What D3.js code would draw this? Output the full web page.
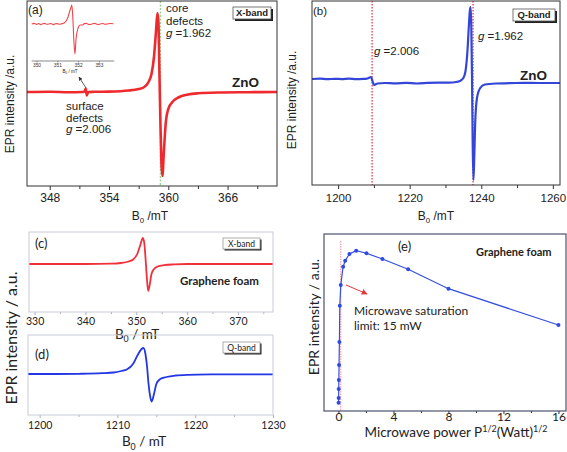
<!DOCTYPE html>
<html><head><meta charset="utf-8">
<script src="https://cdnjs.cloudflare.com/ajax/libs/d3/7.8.5/d3.min.js"></script>
<style>body{margin:0;background:#fff}svg{display:block}</style>
</head><body>
<svg id="chart" width="567" height="452"></svg>
<script>
// ---------- data ----------
// (a) ZnO X-band
const aField  = [345.7,348,350,351.2,351.5,351.65,351.75,351.9,352.5,354,356,357,357.5,358.0,358.3,358.55,358.75,358.9,359.0,359.1,359.2,359.3,359.4,359.55,359.75,360.0,360.5,361,362,363,365,368,371];
const aSignal = [0,0.3,-0.2,0,0.2,3.5,-3.5,0,0.2,0.4,1.5,3,4.5,10,18,35,60,79,70,20,-30,-70,-84,-60,-30,-17,-9,-5.5,-2.5,-1.3,-0.5,-0.2,0];
// (a) inset
const insetField  = [349.77,349.9,350.0,350.1,350.2,350.3,350.4,350.5,350.6,350.7,350.8,350.9,351.0,351.1,351.2,351.35,351.5,351.6,351.65,351.7,351.75,351.8,351.85,351.9,352.0,352.1,352.2,352.3,352.4,352.5,352.6,352.7,352.8,352.9,353.0,353.1,353.2,353.3,353.4,353.55,353.7];
const insetSignal = [0,0.6,-0.4,0.5,-0.6,0.3,0.6,-0.3,0,0.5,-0.8,0.2,0.4,-0.3,0.2,1.2,6,13,16,19,5,-18,-30,-15,-4,-1,-1,0.4,0.6,-0.4,-0.5,0.3,0.6,-0.2,-0.5,0.3,0.5,-0.3,0,0.5,0.2];
const insetTicks = [350,351,352,353];
// (b) ZnO Q-band
const bField  = [1192.7,1195,1197,1199,1201,1203,1205,1207,1208,1208.8,1209.2,1209.6,1210.0,1210.4,1211,1213,1216,1219,1222,1225,1228,1231,1233,1234,1235,1235.6,1236.1,1236.5,1236.8,1237.0,1237.2,1237.4,1237.6,1237.8,1238.0,1238.3,1238.8,1239.7,1241,1244,1248,1252,1256,1262];
const bSignal = [4,4.3,3.8,4.2,3.9,4.3,3.8,4.1,4.4,5.5,6,2,-2,-1.5,-0.5,0,-0.4,0.2,-0.5,0.1,0.4,0.3,1,2,5,12,30,55,72,76,60,10,-60,-97,-80,-40,-15,-5,-1.5,-0.5,-0.2,0.2,0,0];
const bMarks  = [1209.5, 1237.7];
// (c) graphene foam X-band
const cField  = [328.9,335,340,345,347,348.5,349.4,350.2,350.8,351.3,351.6,351.9,352.1,352.35,352.6,353.0,353.5,354.2,355.5,357.5,360,365,370,376.9];
const cSignal = [0,0,0,0.3,1,2.5,4.5,10,19,26,20,0,-15,-27,-22,-10,-5,-2.5,-1.2,-0.4,0,0,0,0];
// (d) graphene foam Q-band
const dField  = [1198.5,1202,1205,1208,1209.5,1210.5,1211.2,1212.0,1212.6,1213.1,1213.35,1213.6,1213.8,1214.0,1214.2,1214.4,1214.7,1215.0,1215.5,1216.3,1217.5,1219,1222,1226,1230];
const dSignal = [0,0,0.2,0.8,1.5,3,4.5,10,19,25,26,20,8,-10,-22,-27.5,-20,-10,-5,-3,-1.5,-0.8,-0.4,-0.3,-0.3];
// (e) microwave power saturation
const ePower     = [0.01,0.015,0.02,0.03,0.045,0.07,0.1,0.17,0.34,0.49,0.8,1.29,2.04,3.2,5.07,8.0,16.0];
const eIntensity = [4.7,7.3,12.4,17.5,26,39,59.5,71.2,81.5,84.9,88.7,90.6,89.1,85.9,80.1,69.1,48.6];
const eSatLimit  = 0.17;
// tick values
const aTicks = [348,354,360,366], aMinor = [351,357,363,369];
const bTicks = [1200,1220,1240,1260], bMinor = [1210,1230,1250];
const cTicks = [330,340,350,360,370], cMinor = [335,345,355,365,375];
const dTicks = [1200,1210,1220,1230], dMinor = [1205,1215,1225];
const eTicks = [0,4,8,12,16], eMinor = [2,6,10,14];

// ---------- drawing ----------
const svg = d3.select('#chart');
const ARIAL = "'Liberation Sans', Arial, sans-serif";
const CAL = "Lato, 'Open Sans', sans-serif";
const defs = svg.append('defs');
defs.append('marker').attr('id','arrRed').attr('viewBox','0 0 10 10').attr('refX',9).attr('refY',5)
  .attr('markerWidth',6).attr('markerHeight',6).attr('orient','auto')
  .append('path').attr('d','M0,0L10,5L0,10z').attr('fill','#e8343c');
defs.append('marker').attr('id','arrGray').attr('viewBox','0 0 10 10').attr('refX',9).attr('refY',5)
  .attr('markerWidth',5).attr('markerHeight',5).attr('orient','auto')
  .append('path').attr('d','M0,0L10,5L0,10z').attr('fill','#333');

let clipN = 0;
function panel(o){
  const x = d3.scaleLinear().domain(o.xd).range([o.x0,o.x1]);
  const y = d3.scaleLinear().domain(o.yd).range([o.y1,o.y0]);
  const id = 'clip'+(clipN++);
  defs.append('clipPath').attr('id',id).append('rect')
    .attr('x',o.x0).attr('y',o.y0).attr('width',o.x1-o.x0).attr('height',o.y1-o.y0);
  const g = svg.append('g');
  const plot = g.append('g').attr('clip-path',`url(#${id})`);
  g.append('g').attr('transform',`translate(0,${o.y1})`)
    .call(d3.axisBottom(x).tickValues(o.minor).tickSize(o.minorSize||2).tickFormat(''))
    .call(s=>{s.select('.domain').remove(); s.selectAll('line').attr('stroke',o.tickColor);});
  const ax = g.append('g').attr('transform',`translate(0,${o.y1})`)
    .call(d3.axisBottom(x).tickValues(o.ticks).tickSize(o.majorSize||4).tickFormat(d3.format('d')));
  ax.select('.domain').remove();
  ax.selectAll('line').attr('stroke',o.tickColor);
  ax.selectAll('text').attr('y',o.labelBase-o.y1).attr('dy',null)
    .attr('font-family',o.font).attr('font-size',o.fs).attr('fill','#222');
  g.append('rect').attr('x',o.x0).attr('y',o.y0).attr('width',o.x1-o.x0).attr('height',o.y1-o.y0)
    .attr('fill','none').attr('stroke',o.boxColor).attr('stroke-width',o.boxW||1);
  return {x,y,plot,g};
}
function trace(p, xs, ys, color, w){
  const pts = xs.map((v,i)=>[v,ys[i]]);
  p.plot.append('path').datum(pts).attr('fill','none').attr('stroke',color).attr('stroke-width',w)
    .attr('stroke-linejoin','round')
    .attr('d', d3.line().x(d=>p.x(d[0])).y(d=>p.y(d[1])).curve(d3.curveMonotoneX));
}
function txt(x,y,s,o={}){
  return svg.append('text').attr('x',x).attr('y',y).text(s)
    .attr('font-family',o.font||ARIAL).attr('font-size',o.fs||12)
    .attr('font-weight',o.bold?'bold':'normal').attr('fill',o.fill||'#222')
    .attr('text-anchor',o.anchor||'start');
}
function bLabel(cx,base,sep,o){
  const t = svg.append('text').attr('x',cx).attr('y',base).attr('text-anchor','middle')
    .attr('font-family',o.font).attr('font-size',o.fs).attr('fill','#222');
  t.append('tspan').text('B');
  t.append('tspan').text('0').attr('font-size',o.fs*0.65).attr('dy',o.fs*0.28);
  t.append('tspan').text(sep+'mT').attr('dy',-o.fs*0.28);
}
function yLabel(cx,cy,s,o){
  svg.append('text').attr('transform',`translate(${cx},${cy}) rotate(-90)`).attr('text-anchor','middle')
    .attr('font-family',o.font).attr('font-size',o.fs).attr('fill','#222').text(s);
}
function bandBox(x,y,w,h,s,o){
  svg.append('rect').attr('x',x+o.sh).attr('y',y+o.sh).attr('width',w).attr('height',h).attr('fill','#222');
  svg.append('rect').attr('x',x).attr('y',y).attr('width',w).attr('height',h)
    .attr('fill','#fff').attr('stroke',o.stroke).attr('stroke-width',0.8);
  txt(x+w/2,y+h/2+o.fs*0.36,s,{font:o.font,fs:o.fs,bold:o.bold,anchor:'middle'});
}

// ----- panel (a) -----
const pa = panel({x0:27,x1:277,y0:1,y1:186,xd:[345.7,371],yd:[-94,91],ticks:aTicks,minor:aMinor,
  labelBase:202,font:ARIAL,fs:12,tickColor:'#333',boxColor:'#333',majorSize:4,minorSize:3});
pa.plot.append('line').attr('x1',pa.x(359.2)).attr('x2',pa.x(359.2)).attr('y1',1).attr('y2',186)
  .attr('stroke','#8fd88f').attr('stroke-width',1.3).attr('stroke-dasharray','2,1.5');
trace(pa,aField,aSignal,'#ee2a2f',2.6);
const ix = d3.scaleLinear().domain([349.77,353.74]).range([31.7,114.3]);
const iy = d3.scaleLinear().domain([-37,22]).range([61,2]);
const ig = svg.append('g');
ig.append('line').attr('x1',31.7).attr('x2',114.3).attr('y1',61).attr('y2',61).attr('stroke','#555').attr('stroke-width',0.7);
ig.append('g').attr('transform','translate(0,61)')
  .call(d3.axisBottom(ix).tickValues(insetTicks).tickSize(1.5).tickFormat(d3.format('d')))
  .call(s=>{s.select('.domain').remove(); s.selectAll('line').attr('stroke','#555').attr('stroke-width',0.6);
    s.selectAll('text').attr('y',5.5).attr('dy',null).attr('font-size',4.8).attr('font-family',ARIAL).attr('fill','#333');});
ig.append('path').datum(insetField.map((v,i)=>[v,insetSignal[i]])).attr('fill','none')
  .attr('stroke','#f0454a').attr('stroke-width',1.1)
  .attr('d',d3.line().x(d=>ix(d[0])).y(d=>iy(d[1])).curve(d3.curveMonotoneX));
bLabel(70,72.5,' / ',{font:ARIAL,fs:4.5});
svg.append('line').attr('x1',pa.x(351.67)).attr('y1',pa.y(4)).attr('x2',pa.x(350.96)).attr('y2',pa.y(15))
  .attr('stroke','#333').attr('stroke-width',0.8).attr('marker-end','url(#arrGray)');
txt(28,14,'(a)',{fs:12});
txt(166,12,'core',{fs:11.5}); txt(166,25,'defects',{fs:11.5});
const ga = txt(166,37,'',{fs:11.5}); ga.append('tspan').text('g').attr('font-style','italic'); ga.append('tspan').text(' =1.962');
txt(66,110,'surface',{fs:11.5}); txt(66,122,'defects',{fs:11.5});
const gs = txt(66,133,'',{fs:11.5}); gs.append('tspan').text('g').attr('font-style','italic'); gs.append('tspan').text(' =2.006');
txt(232,87,'ZnO',{fs:13.5,bold:true});
bandBox(233,7,38,12,'X-band',{font:ARIAL,fs:9.5,bold:true,stroke:'#555',sh:2});
yLabel(14,104,'EPR intensity /a.u.',{font:ARIAL,fs:12});
bLabel(150,220,' /',{font:ARIAL,fs:12});

// ----- panel (b) -----
const pb = panel({x0:312,x1:560,y0:1,y1:185,xd:[1192.7,1262],yd:[-102,82],ticks:bTicks,minor:bMinor,
  labelBase:202,font:ARIAL,fs:11.5,tickColor:'#333',boxColor:'#333',majorSize:4,minorSize:3});
bMarks.forEach(m=>pb.plot.append('line').attr('x1',pb.x(m)).attr('x2',pb.x(m)).attr('y1',1).attr('y2',185)
  .attr('stroke','#e83a55').attr('stroke-width',1.3).attr('stroke-dasharray','1.6,1.4'));
trace(pb,bField,bSignal,'#3346d8',2.2);
txt(313,15,'(b)',{fs:11.5});
const gb1 = txt(478,40,'',{fs:11.5}); gb1.append('tspan').text('g').attr('font-style','italic'); gb1.append('tspan').text(' =1.962');
const gb2 = txt(374,55,'',{fs:11.5}); gb2.append('tspan').text('g').attr('font-style','italic'); gb2.append('tspan').text(' =2.006');
txt(520,80,'ZnO',{fs:13.5,bold:true});
bandBox(513,9,42,12,'Q-band',{font:ARIAL,fs:9.5,bold:true,stroke:'#555',sh:2});
yLabel(296,100,'EPR intensity /a.u.',{font:ARIAL,fs:12});
bLabel(436,220,' /',{font:ARIAL,fs:12});

// ----- panel (c) -----
const pc = panel({x0:29,x1:273,y0:232,y1:312,xd:[328.9,376.9],yd:[-48,32],ticks:cTicks,minor:cMinor,
  labelBase:325,font:CAL,fs:10.5,tickColor:'#aab',boxColor:'#c9ccd8',majorSize:3,minorSize:2});
trace(pc,cField,cSignal,'#f0303a',1.8);
txt(35,248,'(c)',{font:CAL,fs:13});
txt(180,285,'Graphene foam',{font:CAL,fs:11.5,bold:true});
bandBox(223,238,37,11,'X-band',{font:CAL,fs:8.5,bold:false,stroke:'#999',sh:1.5});
bLabel(137,338.5,' / ',{font:CAL,fs:13.5});

// ----- panel (d) -----
const pd = panel({x0:28,x1:273,y0:335,y1:415,xd:[1198.5,1230],yd:[-41,39],ticks:dTicks,minor:dMinor,
  labelBase:429,font:CAL,fs:10.5,tickColor:'#aab',boxColor:'#c9ccd8',majorSize:3,minorSize:2});
trace(pd,dField,dSignal,'#2236e6',1.8);
txt(35,359,'(d)',{font:CAL,fs:13});
bandBox(223,342,37,11,'Q-band',{font:CAL,fs:8.5,bold:false,stroke:'#999',sh:1.5});
bLabel(144,446,' / ',{font:CAL,fs:13.5});
yLabel(17,338,'EPR intensity / a.u.',{font:CAL,fs:16});

// ----- panel (e) -----
const pe = panel({x0:324,x1:566,y0:234,y1:411,xd:[-1.05,16.55],yd:[0,100],ticks:eTicks,minor:eMinor,
  labelBase:421,font:CAL,fs:12,tickColor:'#334',boxColor:'#3d4260',boxW:1.1,majorSize:3,minorSize:2});
pe.plot.append('line').attr('x1',pe.x(eSatLimit)).attr('x2',pe.x(eSatLimit)).attr('y1',pe.y(96)).attr('y2',411)
  .attr('stroke','#f08aa0').attr('stroke-width',1).attr('stroke-dasharray','1.5,1');
const ePts = ePower.map((v,i)=>[v,eIntensity[i]]);
pe.plot.append('path').datum(ePts).attr('fill','none').attr('stroke','#3550dd').attr('stroke-width',1.2)
  .attr('d',d3.line().x(d=>pe.x(d[0])).y(d=>pe.y(d[1])));
pe.plot.selectAll('circle').data(ePts).join('circle').attr('cx',d=>pe.x(d[0])).attr('cy',d=>pe.y(d[1]))
  .attr('r',2).attr('fill','#2f4ae0');
svg.append('line').attr('x1',pe.x(0.55)).attr('y1',pe.y(71.2)).attr('x2',pe.x(2.08)).attr('y2',pe.y(66.1))
  .attr('stroke','#e8343c').attr('stroke-width',1).attr('marker-end','url(#arrRed)');
txt(398,251,'(e)',{font:CAL,fs:13});
txt(476,256,'Graphene foam',{font:CAL,fs:11,bold:true});
txt(354,315,'Microwave saturation',{font:CAL,fs:12});
txt(354,330,'limit: 15 mW',{font:CAL,fs:12});
yLabel(319,317,'EPR intensity / a.u.',{font:CAL,fs:14});
const el = svg.append('text').attr('x',456).attr('y',437).attr('text-anchor','middle')
  .attr('font-family',CAL).attr('font-size',13.5).attr('fill','#222');
el.append('tspan').text('Microwave power P');
el.append('tspan').text('1/2').attr('font-size',9).attr('dy',-5);
el.append('tspan').text('(Watt)').attr('dy',5);
el.append('tspan').text('1/2').attr('font-size',9).attr('dy',-5);
</script>
</body></html>
